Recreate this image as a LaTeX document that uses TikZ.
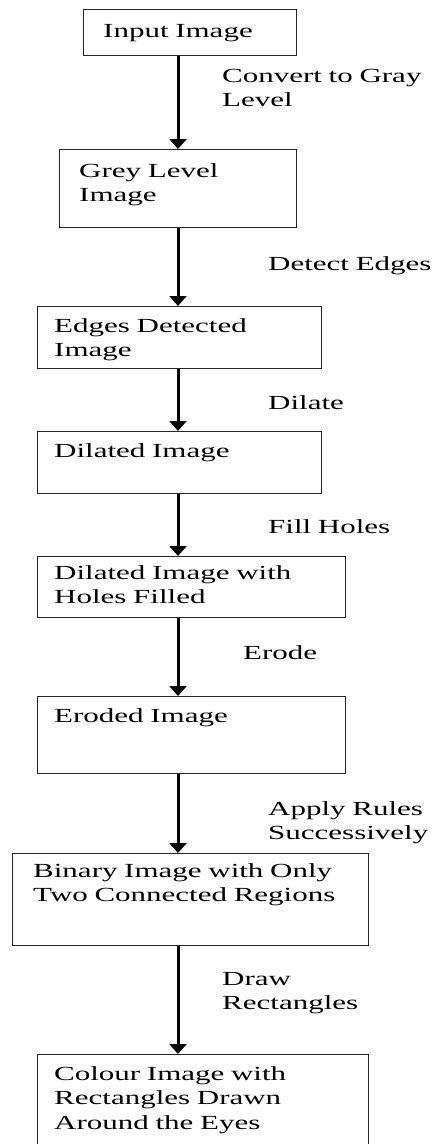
\documentclass[tikz,border=0pt]{standalone}
\usepackage{fontspec}
\setmainfont{Liberation Serif}[FakeStretch=1.55]
\usetikzlibrary{arrows.meta}
\tikzstyle{box} = [rectangle, draw=black!85, line width=1pt, anchor=north west, inner sep=0pt]
\tikzstyle{txt} = [anchor=base west, inner sep=0pt, text width=330pt, align=left, font=\fontsize{20}{24.5}\selectfont]
\tikzstyle{arrow} = [line width=3pt, -{Triangle[width=17pt,length=10pt]}]

\begin{document}
\begin{tikzpicture}[x=1pt, y=-1pt]
    \useasboundingbox (0,0) rectangle (445,1144);
    \clip (0,0) rectangle (445,1144);
    \coordinate (ax) at (178,0);
    % boxes
    \node (b1) [box, minimum width=213pt, minimum height=46pt] at (83,9) {};
    \node (b2) [box, minimum width=237pt, minimum height=78pt] at (59,149) {};
    \node (b3) [box, minimum width=284pt, minimum height=62pt] at (37,306) {};
    \node (b4) [box, minimum width=284pt, minimum height=62pt] at (37,431) {};
    \node (b5) [box, minimum width=308pt, minimum height=61pt] at (37,556) {};
    \node (b6) [box, minimum width=308pt, minimum height=77pt] at (37,696) {};
    \node (b7) [box, minimum width=356pt, minimum height=92pt] at (12,853) {};
    \node (b8) [box, minimum width=331pt, minimum height=100pt] at (37,1054) {};
    % box texts
    \node (t1) [txt] at (103,37) {Input Image};
    \node (t2) [txt] at (79,177) {Grey Level\\Image};
    \node (t3) [txt] at (54,332) {Edges Detected\\Image};
    \node (t4) [txt] at (54,457) {Dilated Image};
    \node (t5) [txt] at (54,579) {Dilated Image with\\Holes Filled};
    \node (t6) [txt] at (54,722) {Eroded Image};
    \node (t7) [txt] at (33,877) {Binary Image with Only\\Two Connected Regions};
    \node (t8) [txt] at (54,1080) {Colour Image with\\Rectangles Drawn\\Around the Eyes};
    % step labels
    \node (l1) [txt] at (222,82) {Convert to Gray\\Level};
    \node (l2) [txt] at (268,270) {Detect Edges};
    \node (l3) [txt] at (268,409) {Dilate};
    \node (l4) [txt] at (268,533) {Fill Holes};
    \node (l5) [txt] at (243,659) {Erode};
    \node (l6) [txt] at (268,815) {Apply Rules\\Successively};
    \node (l7) [txt] at (222,985) {Draw\\Rectangles};
    % arrows
    \draw [arrow] (b1.south -| ax) -- (b2.north -| ax);
    \draw [arrow] (b2.south -| ax) -- (b3.north -| ax);
    \draw [arrow] (b3.south -| ax) -- (b4.north -| ax);
    \draw [arrow] (b4.south -| ax) -- (b5.north -| ax);
    \draw [arrow] (b5.south -| ax) -- (b6.north -| ax);
    \draw [arrow] (b6.south -| ax) -- (b7.north -| ax);
    \draw [arrow] (b7.south -| ax) -- (b8.north -| ax);
\end{tikzpicture}
\end{document}
